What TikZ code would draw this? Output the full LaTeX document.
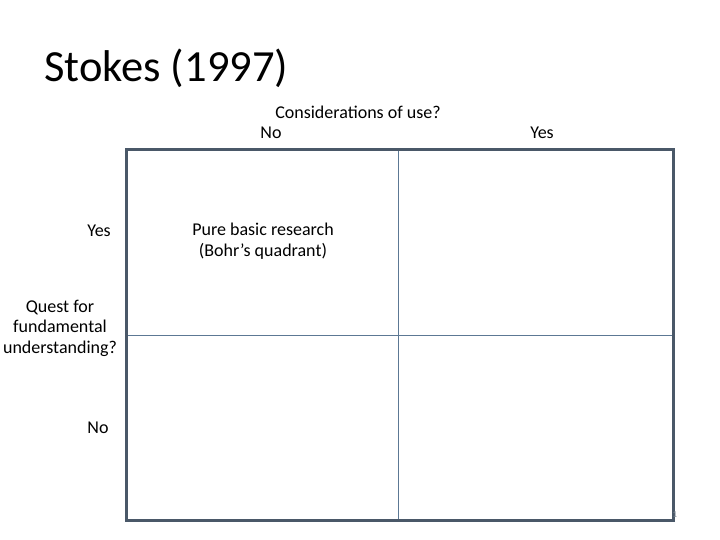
\documentclass[tikz,border=0pt]{standalone}
\usepackage{fontspec}
\setmainfont{Carlito}
\definecolor{frameblue}{RGB}{74,88,104}
\definecolor{gridblue}{RGB}{92,120,148}
\definecolor{pagegrey}{RGB}{130,140,150}
\tikzset{
  lbl/.style={font=\fontsize{18}{20.5}\selectfont, align=center, inner sep=0pt},
  frame/.style={draw=frameblue, line width=3pt},
  divider/.style={draw=gridblue, line width=1.5pt}
}
\begin{document}
\begin{tikzpicture}[x=1pt, y=-1pt]
      \useasboundingbox (0,0) rectangle (720,540);
      \coordinate (nw) at (126.5,149.5);
      \coordinate (se) at (673,520);
      \coordinate (n) at (398.5,149.5);
      \coordinate (s) at (398.5,520);
      \coordinate (w) at (126.5,335.5);
      \coordinate (e) at (673,335.5);
      \begin{scope}[divider]
        \draw (n) to (s);
        \draw (w) to (e);
      \end{scope}
      \draw[frame] (nw) rectangle (se);
      \draw
        (44,68) node[anchor=west, font=\fontsize{44.5}{50}\selectfont, inner sep=0pt] (title){Stokes (1997)}
        (358,112) node[lbl] (use){Considerations of use?}
        (271,133) node[lbl] (useno){No}
        (542,133) node[lbl] (useyes){Yes}
        (99,231) node[lbl] (questyes){Yes}
        (60,328) node[lbl] (quest){Quest for\\fundamental\\understanding?}
        (98,428) node[lbl] (questno){No}
        (263,241) node[lbl] (bohr){Pure basic research\\(Bohr’s quadrant)}
        (675,515) node[font=\fontsize{9}{10}\selectfont, text=pagegrey, inner sep=0pt] (page){1};
    \end{tikzpicture}
\end{document}
